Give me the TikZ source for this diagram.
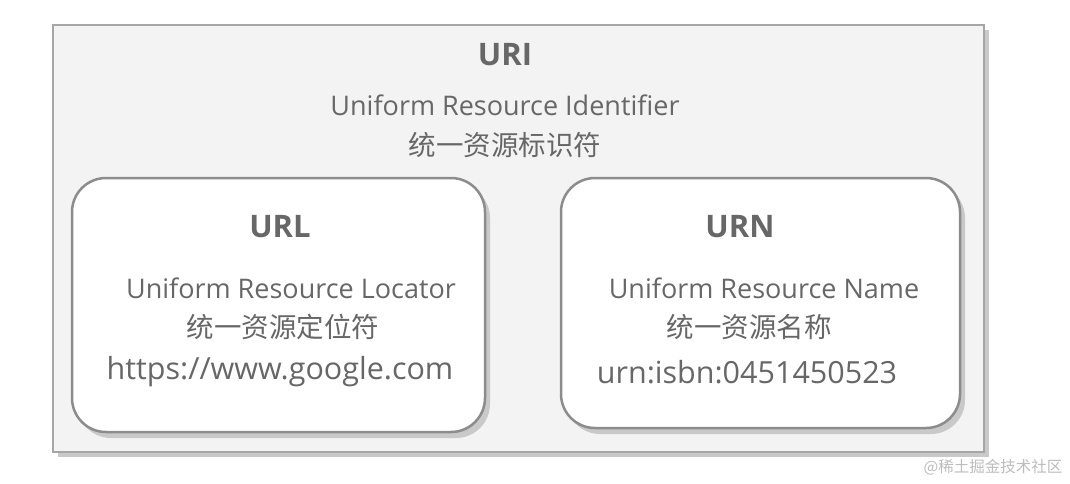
\documentclass[tikz,border=0pt]{standalone}
\usepackage{fontspec}
\setmainfont{Open Sans}
\newfontfamily\cjk{Noto Sans CJK SC}
\usetikzlibrary{positioning}

\definecolor{textgray}{HTML}{676767}
\definecolor{boxgray}{HTML}{F3F3F3}
\definecolor{edgegray}{HTML}{A6A6A6}
\definecolor{roundgray}{HTML}{8C8C8C}
\definecolor{shadowgray}{HTML}{C9C9C9}
\definecolor{markgray}{HTML}{BDBDBD}

\begin{document}
\begin{tikzpicture}[x=1pt, y=-1pt,
    plaintxt/.style={text=textgray, inner sep=0pt, anchor=center},
    headtxt/.style={plaintxt, font=\fontsize{31}{36}\selectfont\bfseries},
    fulltxt/.style={plaintxt, font=\fontsize{27}{32}\selectfont},
    zhtxt/.style={plaintxt, font=\cjk\fontsize{27.5}{32}\selectfont},
    sampletxt/.style={plaintxt, font=\fontsize{30.5}{36}\selectfont},
    roundbox/.style={draw=roundgray, line width=2.5pt, fill=white, rounded corners=34pt}]
    \useasboundingbox (0,0) rectangle (1070,483);
    \fill[white] (0,0) rectangle (1070,483);

    % outer box
    \fill[shadowgray] (58,30) rectangle (989,457);
    \draw[edgegray, line width=2pt, fill=boxgray] (53,25) rectangle (984,452);

    \node[headtxt] (uri) at (505,55) {URI};
    \node[fulltxt] (urifull) at (505,105) {Uniform Resource Identifier};
    \node[zhtxt] (urizh) at (505,145) {统一资源标识符};

    % left box
    \fill[shadowgray, rounded corners=34pt] (77,184) rectangle (490,438);
    \draw[roundbox] (72,178) rectangle (485,432);
    \node[headtxt] (url) at (280,227) {URL};
    \node[fulltxt] (urlfull) at (291,288) {Uniform Resource Locator};
    \node[zhtxt] (urlzh) at (283,327) {统一资源定位符};
    \node[sampletxt] (urlex) at (280,372) {https://www.google.com};

    % right box
    \fill[shadowgray, rounded corners=34pt] (566,184) rectangle (965,434);
    \draw[roundbox] (561,178) rectangle (960,428);
    \node[headtxt] (urn) at (740,227) {URN};
    \node[fulltxt] (urnfull) at (764,288) {Uniform Resource Name};
    \node[zhtxt] (urnzh) at (749,327) {统一资源名称};
    \node[sampletxt] (urnex) at (747,372) {urn:isbn:0451450523};

    \node[plaintxt, text=markgray, font=\cjk\fontsize{15.5}{18}\selectfont] (mark) at (993,467) {@稀土掘金技术社区};
\end{tikzpicture}
\end{document}
